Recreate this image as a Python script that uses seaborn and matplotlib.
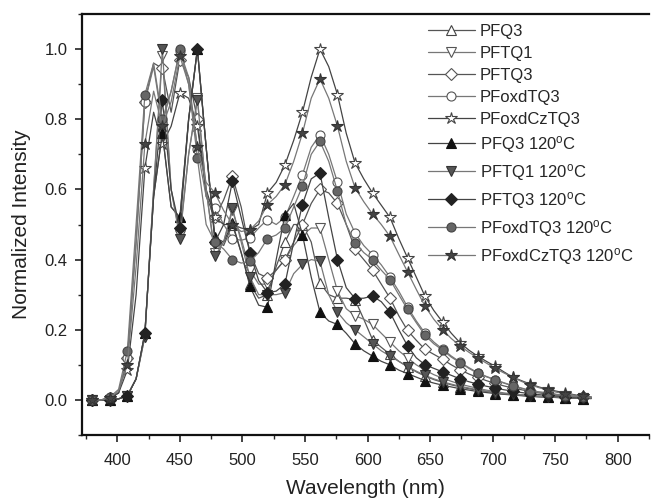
import numpy as np
import pandas as pd
import seaborn as sns
import matplotlib
matplotlib.use("Agg")
import matplotlib.pyplot as plt

# wavelength grid (nm), markers on every 2nd point
wavelength = [380, 387, 394, 401, 408, 415, 422, 429, 436, 443, 450, 457, 464, 471,
              478, 485, 492, 499, 506, 513, 520, 527, 534, 541, 548, 555, 562, 569,
              576, 583, 590, 597, 604, 611, 618, 625, 632, 639, 646, 653, 660, 667,
              674, 681, 688, 695, 702, 709, 716, 723, 730, 737, 744, 751, 758, 765,
              772, 779]

pfq3 = [0, 0, 0, 0.003, 0.012, 0.06, 0.19, 0.58, 0.76, 0.55, 0.52, 0.8, 1.0, 0.72,
        0.46, 0.44, 0.5, 0.42, 0.33, 0.29, 0.3, 0.38, 0.45, 0.5, 0.5, 0.45, 0.334, 0.3,
        0.29, 0.29, 0.286, 0.23, 0.172, 0.15, 0.13, 0.11, 0.095, 0.08, 0.068, 0.058, 0.05, 0.043,
        0.037, 0.032, 0.028, 0.024, 0.02, 0.017, 0.015, 0.013, 0.011, 0.009, 0.008, 0.007, 0.006, 0.005,
        0.004, 0.004]
pftq1 = [0, 0, 0, 0.003, 0.012, 0.06, 0.18, 0.6, 0.98, 0.6, 0.47, 0.7, 0.86, 0.6,
         0.42, 0.45, 0.54, 0.46, 0.37, 0.33, 0.33, 0.37, 0.4, 0.44, 0.47, 0.49, 0.49, 0.4,
         0.31, 0.26, 0.24, 0.23, 0.215, 0.19, 0.165, 0.14, 0.12, 0.1, 0.085, 0.072, 0.062, 0.053,
         0.045, 0.039, 0.033, 0.028, 0.024, 0.02, 0.017, 0.015, 0.013, 0.011, 0.009, 0.008, 0.007, 0.006,
         0.005, 0.005]
pftq3 = [0, 0, 0.005, 0.02, 0.12, 0.45, 0.85, 0.96, 0.945, 0.82, 0.97, 0.92, 0.8, 0.58,
         0.52, 0.57, 0.637, 0.55, 0.42, 0.36, 0.348, 0.37, 0.4, 0.45, 0.5, 0.56, 0.6, 0.59,
         0.56, 0.5, 0.43, 0.4, 0.37, 0.33, 0.29, 0.24, 0.198, 0.17, 0.144, 0.13, 0.116, 0.1,
         0.086, 0.074, 0.064, 0.055, 0.047, 0.04, 0.034, 0.029, 0.024, 0.02, 0.017, 0.014, 0.012, 0.01,
         0.008, 0.007]
pfoxdtq3 = [0, 0, 0.005, 0.02, 0.12, 0.45, 0.85, 0.95, 0.79, 0.88, 0.995, 0.92, 0.715, 0.58,
            0.548, 0.5, 0.46, 0.455, 0.462, 0.49, 0.514, 0.5, 0.52, 0.58, 0.642, 0.72, 0.756, 0.7,
            0.62, 0.53, 0.476, 0.44, 0.414, 0.385, 0.35, 0.31, 0.265, 0.225, 0.19, 0.165, 0.145, 0.125,
            0.108, 0.092, 0.078, 0.067, 0.058, 0.049, 0.041, 0.034, 0.027, 0.023, 0.02, 0.016, 0.013, 0.011,
            0.009, 0.007]
pfoxdcztq3 = [0, 0, 0.005, 0.02, 0.085, 0.3, 0.66, 0.82, 0.73, 0.78, 0.875, 0.86, 0.78, 0.6,
              0.52, 0.5, 0.5, 0.49, 0.485, 0.5, 0.59, 0.62, 0.67, 0.74, 0.82, 0.92, 1.0, 0.95,
              0.87, 0.76, 0.676, 0.63, 0.59, 0.555, 0.52, 0.46, 0.405, 0.35, 0.295, 0.255, 0.222, 0.19,
              0.163, 0.142, 0.125, 0.11, 0.096, 0.08, 0.065, 0.055, 0.045, 0.037, 0.03, 0.025, 0.02, 0.015,
              0.01, 0.008]
pfq3_120 = [0, 0, 0, 0.003, 0.012, 0.06, 0.19, 0.58, 0.76, 0.55, 0.52, 0.8, 1.0, 0.72,
            0.463, 0.45, 0.505, 0.42, 0.324, 0.27, 0.264, 0.4, 0.528, 0.56, 0.471, 0.35, 0.25, 0.225,
            0.215, 0.19, 0.16, 0.14, 0.125, 0.11, 0.1, 0.085, 0.075, 0.065, 0.055, 0.048, 0.042, 0.037,
            0.032, 0.028, 0.024, 0.021, 0.018, 0.016, 0.014, 0.012, 0.01, 0.009, 0.008, 0.007, 0.006, 0.005,
            0.004, 0.004]
pftq1_120 = [0, 0, 0, 0.003, 0.012, 0.06, 0.18, 0.6, 1.0, 0.6, 0.46, 0.7, 0.855, 0.6,
             0.41, 0.45, 0.548, 0.45, 0.35, 0.3, 0.3, 0.3, 0.306, 0.36, 0.386, 0.4, 0.395, 0.3,
             0.25, 0.22, 0.2, 0.18, 0.16, 0.14, 0.125, 0.11, 0.095, 0.082, 0.07, 0.06, 0.052, 0.045,
             0.039, 0.034, 0.029, 0.025, 0.021, 0.018, 0.016, 0.014, 0.012, 0.01, 0.009, 0.008, 0.007, 0.006,
             0.005, 0.005]
pftq3_120 = [0, 0, 0, 0.003, 0.012, 0.06, 0.19, 0.58, 0.855, 0.6, 0.49, 0.8, 1.0, 0.72,
             0.45, 0.5, 0.623, 0.52, 0.42, 0.34, 0.306, 0.31, 0.33, 0.45, 0.557, 0.63, 0.647, 0.52,
             0.4, 0.32, 0.289, 0.29, 0.296, 0.28, 0.25, 0.2, 0.154, 0.12, 0.1, 0.09, 0.08, 0.07,
             0.06, 0.052, 0.045, 0.039, 0.034, 0.029, 0.025, 0.021, 0.018, 0.015, 0.013, 0.011, 0.009, 0.008,
             0.007, 0.006]
pfoxdtq3_120 = [0, 0, 0.008, 0.03, 0.14, 0.5, 0.87, 0.96, 0.8, 0.88, 1.0, 0.9, 0.69, 0.5,
                0.45, 0.43, 0.4, 0.39, 0.395, 0.42, 0.46, 0.47, 0.49, 0.55, 0.609, 0.7, 0.737, 0.68,
                0.595, 0.5, 0.448, 0.42, 0.4, 0.37, 0.343, 0.3, 0.258, 0.22, 0.184, 0.16, 0.142, 0.122,
                0.106, 0.09, 0.076, 0.066, 0.057, 0.048, 0.04, 0.033, 0.026, 0.022, 0.02, 0.015, 0.012, 0.01,
                0.008, 0.006]
pfoxdcztq3_120 = [0, 0, 0.006, 0.025, 0.10, 0.38, 0.73, 0.88, 0.78, 0.85, 0.98, 0.9, 0.72, 0.62,
                  0.59, 0.54, 0.5, 0.48, 0.485, 0.51, 0.557, 0.58, 0.614, 0.68, 0.76, 0.86, 0.915, 0.86,
                  0.78, 0.68, 0.605, 0.565, 0.53, 0.5, 0.466, 0.415, 0.365, 0.315, 0.267, 0.23, 0.2, 0.175,
                  0.154, 0.136, 0.12, 0.105, 0.09, 0.077, 0.065, 0.053, 0.043, 0.035, 0.028, 0.022, 0.018, 0.014,
                  0.01, 0.008]

labels = ["PFQ3", "PFTQ1", "PFTQ3", "PFoxdTQ3", "PFoxdCzTQ3",
          "PFQ3 120$^{\\mathrm{o}}$C", "PFTQ1 120$^{\\mathrm{o}}$C", "PFTQ3 120$^{\\mathrm{o}}$C",
          "PFoxdTQ3 120$^{\\mathrm{o}}$C", "PFoxdCzTQ3 120$^{\\mathrm{o}}$C"]
series = [pfq3, pftq1, pftq3, pfoxdtq3, pfoxdcztq3,
          pfq3_120, pftq1_120, pftq3_120, pfoxdtq3_120, pfoxdcztq3_120]

styles = [
    dict(marker="^", mfc="white", mec="#444444", color="#555555", ms=7),
    dict(marker="v", mfc="white", mec="#555555", color="#777777", ms=7),
    dict(marker="D", mfc="white", mec="#555555", color="#555555", ms=6),
    dict(marker="o", mfc="white", mec="#555555", color="#777777", ms=6.5),
    dict(marker="*", mfc="white", mec="#444444", color="#444444", ms=9),
    dict(marker="^", mfc="#111111", mec="#111111", color="#444444", ms=7),
    dict(marker="v", mfc="#555555", mec="#333333", color="#777777", ms=7),
    dict(marker="D", mfc="#222222", mec="#222222", color="#444444", ms=6),
    dict(marker="o", mfc="#666666", mec="#444444", color="#777777", ms=6.5),
    dict(marker="*", mfc="#444444", mec="#333333", color="#777777", ms=9),
]

sns.set_theme(style="ticks")
plt.rcParams["font.family"] = ["Liberation Sans", "DejaVu Sans"]
plt.rcParams["mathtext.fontset"] = "custom"
plt.rcParams["mathtext.rm"] = "Liberation Sans"
plt.rcParams["mathtext.it"] = "Liberation Sans:italic"

fig = plt.figure(figsize=(6.52, 5.0), dpi=100)
ax = fig.add_axes([0.1253, 0.13, 0.87, 0.842])

for lab, vals, st in zip(labels, series, styles):
    df = pd.DataFrame({"wl": wavelength, "v": vals})
    sns.lineplot(data=df, x="wl", y="v", ax=ax, color=st["color"], lw=0.9,
                 marker=st["marker"], markevery=2, markersize=st["ms"],
                 markerfacecolor=st["mfc"], markeredgecolor=st["mec"],
                 markeredgewidth=0.8, label=lab, sort=False)

ax.set_xlim(371.5, 817)
ax.set_ylim(-0.1, 1.1)
ax.set_xticks([400, 450, 500, 550, 600, 650, 700, 750, 800])
ax.set_xticks(np.arange(375, 826, 25), minor=True)
ax.set_yticks([0.0, 0.2, 0.4, 0.6, 0.8, 1.0])
ax.set_yticks(np.arange(-0.1, 1.11, 0.1), minor=True)
ax.set_yticklabels(["0.0", "0.2", "0.4", "0.6", "0.8", "1.0"])
ax.tick_params(axis="both", which="major", direction="out", length=5, width=1.2,
               labelsize=12, colors="#222222", top=False, right=False)
ax.tick_params(axis="x", which="major", pad=8)
ax.tick_params(axis="y", which="major", pad=5)
ax.tick_params(axis="both", which="minor", direction="out", length=3, width=1.0,
               top=False, right=False)
for s in ["left", "bottom", "top"]:
    ax.spines[s].set_linewidth(1.6)
    ax.spines[s].set_color("#111111")
ax.spines["right"].set_visible(False)

ax.set_xlabel("Wavelength (nm)", fontsize=15, color="#222222", labelpad=8)
ax.set_ylabel("Normalized Intensity", fontsize=15, color="#222222", labelpad=10)

leg = ax.legend(loc="upper right", bbox_to_anchor=(0.99, 1.0), frameon=False,
                fontsize=12, handlelength=2.8, handletextpad=0.3,
                labelspacing=0.42, borderaxespad=0.2, numpoints=1)

fig.savefig("out.png", dpi=100)
